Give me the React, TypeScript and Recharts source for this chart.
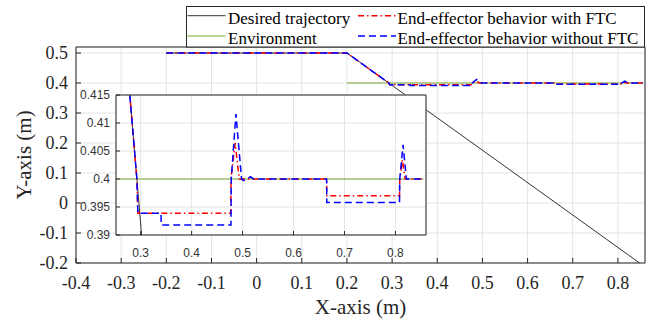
import React from 'react';
import { LineChart, Line, XAxis, YAxis, CartesianGrid, Legend } from 'recharts';

// ---------- data ----------
const desiredX = [-0.2, 0.2, 0.848];
const desiredY = [0.5, 0.5, -0.2];

const envX = [0.2, 0.855];
const envY = [0.4, 0.4];

const ftcX = [-0.2, 0.2, 0.2926, 0.2945, 0.477, 0.4772, 0.4855, 0.4935, 0.665, 0.6652, 0.808, 0.8085, 0.8137, 0.819, 0.855];
const ftcY = [0.5, 0.5, 0.4, 0.3939, 0.3939, 0.4, 0.4064, 0.4, 0.4, 0.397, 0.397, 0.4, 0.4034, 0.4, 0.4];

const noFtcX = [-0.2, 0.2, 0.2926, 0.2945, 0.34, 0.3402, 0.4772, 0.4778, 0.487, 0.498, 0.502, 0.509, 0.5157, 0.522, 0.665, 0.6652, 0.808, 0.8085, 0.815, 0.8215, 0.855];
const noFtcY = [0.5, 0.5, 0.4, 0.3939, 0.3939, 0.3918, 0.3918, 0.4, 0.4116, 0.4, 0.3997, 0.4, 0.4004, 0.4, 0.4, 0.3958, 0.3958, 0.4, 0.4061, 0.4, 0.4];

const mainXTicks = [-0.4, -0.3, -0.2, -0.1, 0, 0.1, 0.2, 0.3, 0.4, 0.5, 0.6, 0.7, 0.8];
const mainYTicks = [-0.2, -0.1, 0, 0.1, 0.2, 0.3, 0.4, 0.5];
const insetXTicks = [0.3, 0.4, 0.5, 0.6, 0.7, 0.8];
const insetYTicks = [0.39, 0.395, 0.4, 0.405, 0.41, 0.415];

const seriesNames = [
  'Desired trajectory',
  'Environment',
  'End-effector behavior with FTC',
  'End-effector behavior without FTC',
];

const xTitle = 'X-axis (m)';
const yTitle = 'Y-axis (m)';

// ---------- helpers ----------
const zip = (xs: number[], ys: number[]) => xs.map((x, i) => ({ x, y: ys[i] }));
const fmt = (v: number) => String(parseFloat(v.toFixed(3)));

const SERIF = 'Liberation Serif, Tinos, Times New Roman, DejaVu Serif, serif';
const SANS = 'Liberation Sans, Arimo, Arial, Helvetica, sans-serif';
const AXIS = '#262626';
const GRID = '#e4e4e4';

const series = [
  { name: seriesNames[0], data: zip(desiredX, desiredY), color: '#333333', width: 1, dash: undefined as string | undefined },
  { name: seriesNames[1], data: zip(envX, envY), color: '#77ac30', width: 1.2, dash: undefined },
  { name: seriesNames[2], data: zip(ftcX, ftcY), color: '#ff0000', width: 1.5, dash: '6 3 1.5 3' },
  { name: seriesNames[3], data: zip(noFtcX, noFtcY), color: '#0000ff', width: 1.5, dash: '7 4' },
];

const renderLines = () =>
  series.map((s) => (
    <Line
      key={s.name}
      name={s.name}
      data={s.data}
      dataKey="y"
      type="linear"
      stroke={s.color}
      strokeWidth={s.width}
      strokeDasharray={s.dash}
      dot={false}
      activeDot={false}
      isAnimationActive={false}
    />
  ));

const serifStyle = (size: number) => ({ fontSize: size, fontFamily: SERIF, fill: AXIS });
const sansStyle = (size: number) => ({ fontSize: size, fontFamily: SANS, fill: '#333' });

const LegendBox = () => {
  const W = 459;
  const H = 41.5;
  const cols = [
    { lx: 1.5, tx: 42 },
    { lx: 172, tx: 211.5 },
  ];
  const rows = [
    { ly: 9.7, ty: 17.5 },
    { ly: 30, ty: 37.8 },
  ];
  const order = [
    [0, 0, 0],
    [1, 0, 1],
    [2, 1, 0],
    [3, 1, 1],
  ];
  return (
    <svg width={W} height={H} style={{ display: 'block' }}>
      <rect x={0.5} y={0.5} width={W - 1} height={H - 1} fill="#fff" stroke={AXIS} strokeWidth={1} />
      {order.map(([si, c, r]) => {
        const s = series[si];
        const col = cols[c];
        const row = rows[r];
        return (
          <g key={s.name}>
            <line
              x1={col.lx}
              x2={col.lx + 38}
              y1={row.ly}
              y2={row.ly}
              stroke={s.color}
              strokeWidth={s.width}
              strokeDasharray={s.dash}
            />
            <text x={col.tx} y={row.ty} style={{ fontFamily: SERIF, fontSize: 17, fill: '#000' }}>
              {s.name}
            </text>
          </g>
        );
      })}
    </svg>
  );
};

export default function App() {
  return (
    <div style={{ position: 'absolute', left: 0, top: 0, width: 657, height: 322, background: '#fff', fontFamily: SERIF }}>
      {/* main chart */}
      <div style={{ position: 'absolute', left: 0, top: 0 }}>
        <LineChart width={657} height={322} margin={{ top: 46, right: 11, bottom: 0, left: 0 }} style={{ fontFamily: SERIF }}>
          <CartesianGrid stroke={GRID} />
          <XAxis
            type="number"
            dataKey="x"
            domain={[-0.4, 0.86]}
            ticks={mainXTicks}
            allowDataOverflow
            interval={0}
            height={59}
            tickSize={-5}
            tickMargin={18}
            stroke={AXIS}
            tickFormatter={fmt}
            tick={{ style: serifStyle(18) }}
            label={{ value: xTitle, position: 'insideBottom', offset: 8, style: serifStyle(21) }}
          />
          <XAxis
            xAxisId="top"
            orientation="top"
            type="number"
            dataKey="x"
            domain={[-0.4, 0.86]}
            ticks={mainXTicks}
            allowDataOverflow
            interval={0}
            height={1}
            tick={false}
            tickSize={-5}
            stroke={AXIS}
          />
          <YAxis
            type="number"
            domain={[-0.2, 0.52]}
            ticks={mainYTicks}
            allowDataOverflow
            interval={0}
            width={76}
            tickSize={-5}
            tickMargin={13}
            stroke={AXIS}
            tickFormatter={fmt}
            tick={{ style: serifStyle(18) }}
            label={{ value: yTitle, angle: -90, position: 'insideLeft', offset: 24, style: { ...serifStyle(21), textAnchor: 'middle' } }}
          />
          <YAxis
            yAxisId="right"
            orientation="right"
            type="number"
            domain={[-0.2, 0.52]}
            ticks={mainYTicks}
            allowDataOverflow
            interval={0}
            width={1}
            tick={false}
            tickSize={-5}
            stroke={AXIS}
          />
          {renderLines()}
          <Legend
            layout="vertical"
            align="center"
            verticalAlign="middle"
            content={() => <LegendBox />}
            wrapperStyle={{ position: 'absolute', left: 186, top: 6, width: 459, height: 42, margin: 0, padding: 0 }}
          />
        </LineChart>
      </div>

      {/* inset chart */}
      <div style={{ position: 'absolute', left: 0, top: 0, pointerEvents: 'none' }}>
        <LineChart width={657} height={322} margin={{ top: 94, right: 230, bottom: 0, left: 0 }} style={{ fontFamily: SANS }}>
          <CartesianGrid stroke={GRID} fill="#ffffff" fillOpacity={1} />
          <XAxis
            type="number"
            dataKey="x"
            domain={[0.2516, 0.86]}
            ticks={insetXTicks}
            allowDataOverflow
            interval={0}
            height={87}
            tickSize={-4}
            tickMargin={17}
            stroke={AXIS}
            tickFormatter={fmt}
            tick={{ style: sansStyle(12) }}
          />
          <XAxis
            xAxisId="top"
            orientation="top"
            type="number"
            dataKey="x"
            domain={[0.2516, 0.86]}
            ticks={insetXTicks}
            allowDataOverflow
            interval={0}
            height={1}
            tick={false}
            tickSize={-4}
            stroke={AXIS}
          />
          <YAxis
            type="number"
            domain={[0.39, 0.415]}
            ticks={insetYTicks}
            allowDataOverflow
            interval={0}
            width={116}
            tickSize={-4}
            tickMargin={10}
            stroke={AXIS}
            tickFormatter={fmt}
            tick={{ style: sansStyle(12) }}
          />
          <YAxis
            yAxisId="right"
            orientation="right"
            type="number"
            domain={[0.39, 0.415]}
            ticks={insetYTicks}
            allowDataOverflow
            interval={0}
            width={1}
            tick={false}
            tickSize={-4}
            stroke={AXIS}
          />
          {renderLines()}
        </LineChart>
      </div>
    </div>
  );
}
